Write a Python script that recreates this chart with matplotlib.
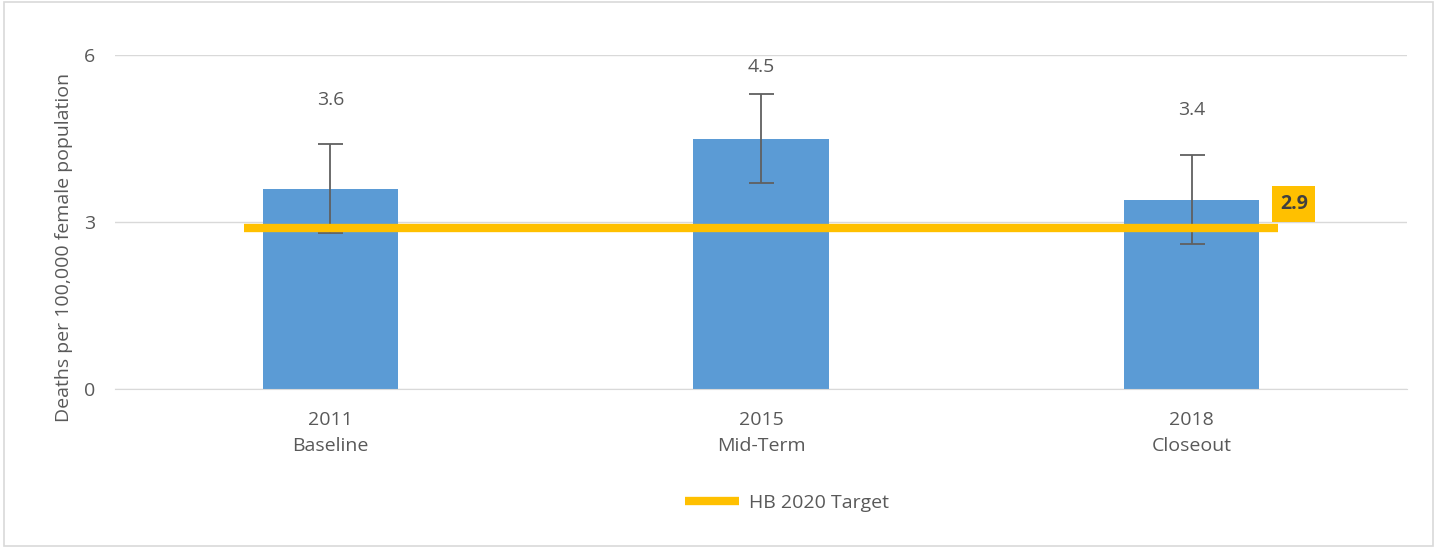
import numpy as np
import matplotlib.pyplot as plt

# ── Data ──────────────────────────────────────────────────────────────────────
YEARS   = ["2011", "2015", "2018"]
PHASES  = ["Baseline", "Mid-Term", "Closeout"]
RATES   = [3.6, 4.5, 3.4]
ERR     = [0.8, 0.8, 0.8]
TARGET  = 2.9
Y_TICKS = [0, 3, 6]

# value label heights (data units), as placed in the original chart
LABEL_Y = [5.19, 5.78, 5.01]

BAR_COLOR    = "#5B9BD5"
TARGET_COLOR = "#FFC000"
TEXT_COLOR   = "#595959"
GRID_COLOR   = "#D9D9D9"
FS = 14

plt.rcParams["font.family"] = ["Open Sans", "DejaVu Sans"]

fig = plt.figure(figsize=(14.37, 5.48), dpi=100)
ax = fig.add_axes([115 / 1437, 1 - 389 / 548, (1407 - 115) / 1437, (389 - 55) / 548])

x = np.arange(len(YEARS))
ax.bar(x, RATES, width=0.314, color=BAR_COLOR, zorder=2)
ax.errorbar(x, RATES, yerr=ERR, fmt="none", ecolor="#606060", elinewidth=1.3,
            capsize=9, capthick=1.3, zorder=3)

for xi, v, ly in zip(x, RATES, LABEL_Y):
    ax.text(xi, ly, f"{v}", ha="center", va="center",
            fontsize=FS, color=TEXT_COLOR)

ax.plot([-0.2, 2.2], [TARGET, TARGET], color=TARGET_COLOR, linewidth=6,
        solid_capstyle="butt", zorder=4, label="HB 2020 Target")
ax.text(2.237, 3.32, f"{TARGET}", ha="center", va="center",
        fontsize=FS, fontweight="bold", color="#404040", zorder=5,
        bbox=dict(boxstyle="square,pad=0.4", fc=TARGET_COLOR, ec="none"))

ax.set_xlim(-0.5, 2.5)
ax.set_ylim(0, 6)
ax.set_yticks(Y_TICKS)
ax.set_xticks(x)
ax.set_xticklabels([f"{y}\n{p}" for y, p in zip(YEARS, PHASES)],
                   fontsize=FS, color=TEXT_COLOR, linespacing=1.55)
ax.tick_params(axis="y", labelsize=FS, labelcolor=TEXT_COLOR, length=0, pad=14)
ax.tick_params(axis="x", length=0, pad=16)
ax.grid(axis="y", color=GRID_COLOR, linewidth=1, zorder=0)
for s in ["top", "right", "left"]:
    ax.spines[s].set_visible(False)
ax.spines["bottom"].set_color(GRID_COLOR)

ax.set_ylabel("Deaths per 100,000 female population", fontsize=FS,
              color=TEXT_COLOR, labelpad=8, y=0.425)

fig.legend(loc="center", bbox_to_anchor=(787 / 1437, 1 - 503 / 548),
           frameon=False, fontsize=FS, labelcolor=TEXT_COLOR,
           handlelength=2.8, handletextpad=0.5)

# border around the chart
fig.patches.append(plt.Rectangle((4 / 1437, 2 / 548), 1429 / 1437, 544 / 548,
                                 transform=fig.transFigure, fill=False,
                                 ec="#D9D9D9", lw=1.2))

fig.savefig("out.png", dpi=100)
